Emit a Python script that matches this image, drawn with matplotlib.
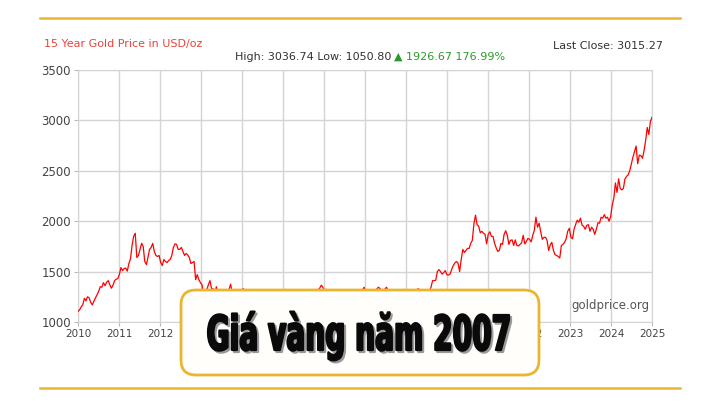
import matplotlib
matplotlib.use("Agg")
import matplotlib.pyplot as plt
import numpy as np
from matplotlib.patches import FancyBboxPatch, PathPatch
from matplotlib.textpath import TextPath
from matplotlib.font_manager import FontProperties
from matplotlib.transforms import Affine2D

# semi-monthly gold price (USD/oz), Mar 2010 -> Mar 2025
p2010 = [1105, 1120, 1150, 1170, 1235, 1210, 1250, 1240, 1195, 1170,
         1205, 1240, 1270, 1305, 1350, 1345, 1390, 1360, 1395, 1410]
p2011 = [1370, 1335, 1365, 1410, 1425, 1430, 1470, 1540, 1510, 1530, 1535, 1505,
         1580, 1625, 1760, 1850, 1880, 1640, 1660, 1720, 1780, 1750, 1600, 1570]
p2012 = [1640, 1720, 1740, 1780, 1700, 1660, 1650, 1660, 1590, 1560, 1620, 1600,
         1590, 1610, 1620, 1660, 1740, 1775, 1770, 1720, 1720, 1740, 1700, 1660]
p2013 = [1680, 1665, 1640, 1580, 1590, 1600, 1420, 1470, 1420, 1390, 1370, 1240,
         1290, 1320, 1370, 1410, 1330, 1330, 1280, 1350, 1290, 1250, 1230, 1205]
p2014 = [1250, 1245, 1310, 1325, 1375, 1290, 1300, 1290, 1295, 1250, 1275, 1320,
         1330, 1290, 1310, 1285, 1240, 1210, 1240, 1170, 1190, 1180, 1220, 1200]
p2015 = [1265, 1280, 1230, 1210, 1160, 1185, 1200, 1180, 1220, 1190, 1180, 1170,
         1100, 1095, 1115, 1135, 1110, 1115, 1185, 1140, 1085, 1065, 1065, 1060]
p2016 = [1090, 1115, 1240, 1235, 1255, 1235, 1240, 1290, 1270, 1215, 1285, 1320,
         1335, 1365, 1345, 1310, 1325, 1315, 1255, 1275, 1225, 1175, 1160, 1150]
p2017 = [1200, 1210, 1235, 1250, 1200, 1250, 1285, 1270, 1230, 1270, 1270, 1240,
         1230, 1270, 1290, 1320, 1345, 1280, 1300, 1270, 1280, 1275, 1250, 1300]
p2018 = [1330, 1345, 1330, 1320, 1320, 1325, 1345, 1315, 1290, 1300, 1280, 1250,
         1240, 1225, 1195, 1200, 1200, 1190, 1225, 1215, 1215, 1220, 1240, 1280]
p2019 = [1290, 1320, 1330, 1315, 1300, 1295, 1275, 1285, 1285, 1305, 1345, 1410,
         1410, 1415, 1500, 1520, 1500, 1475, 1490, 1510, 1470, 1465, 1475, 1520]
p2020 = [1560, 1585, 1600, 1585, 1500, 1620, 1720, 1690, 1710, 1730, 1730, 1780,
         1810, 1975, 2060, 1965, 1950, 1885, 1900, 1880, 1870, 1775, 1870, 1895]
p2021 = [1850, 1850, 1780, 1735, 1700, 1710, 1780, 1770, 1870, 1905, 1860, 1770,
         1810, 1815, 1760, 1815, 1760, 1755, 1770, 1785, 1860, 1775, 1800, 1830]
p2022 = [1820, 1795, 1860, 1910, 2040, 1940, 1980, 1895, 1820, 1840, 1840, 1810,
         1710, 1765, 1790, 1710, 1670, 1660, 1650, 1635, 1760, 1770, 1790, 1825]
p2023 = [1900, 1930, 1840, 1825, 1920, 1970, 2010, 1990, 2030, 1960, 1950, 1920,
         1960, 1965, 1900, 1940, 1920, 1870, 1920, 1985, 1980, 2040, 2030, 2065]
p2024 = [2030, 2040, 2000, 2045, 2160, 2230, 2380, 2285, 2420, 2325, 2310, 2325,
         2420, 2445, 2460, 2500, 2570, 2635, 2690, 2745, 2570, 2655, 2650, 2625]
p2025 = [2700, 2800, 2930, 2860, 2990, 3030]

prices = np.array(p2010 + p2011 + p2012 + p2013 + p2014 + p2015 + p2016 + p2017
                  + p2018 + p2019 + p2020 + p2021 + p2022 + p2023 + p2024 + p2025)
t = np.linspace(0, 15, len(prices))

year_labels = ['2010', '2011', '2012', '2013', '2014', '2015', '2016', '2017',
               '2018', '2019', '2020', '2022', '2023', '2024', '2025']
y_ticks = [1000, 1500, 2000, 2500, 3000, 3500]

gold = '#e9b632'
grey = '#444444'

fig = plt.figure(figsize=(7.2, 4.05), dpi=100)
fig.patch.set_facecolor('white')

ax = fig.add_axes([78 / 720, 1 - 322 / 405, 574 / 720, 252 / 405])
ax.plot(t, prices, color='#ff0000', lw=0.9, zorder=3)
ax.set_xlim(0, 15)
ax.set_ylim(1000, 3500)
ax.set_xticks(np.linspace(0, 15, len(year_labels)))
ax.set_xticklabels(year_labels, fontsize=7.5, color=grey)
ax.set_yticks(y_ticks)
ax.set_yticklabels([str(v) for v in y_ticks], fontsize=8.5, color=grey)
ax.grid(True, color='#d4d4d4', lw=1)
for s in ax.spines.values():
    s.set_color('#d4d4d4')
ax.tick_params(axis='both', length=3, color='#bbbbbb', pad=2)
ax.text(0.995, 0.04, 'goldprice.org', transform=ax.transAxes, ha='right',
        va='bottom', fontsize=8.5, color='#555555')

# header texts
fig.text(44 / 720, 1 - 44 / 405, '15 Year Gold Price in USD/oz', color='#e8433c',
         fontsize=8, va='center')
fig.text(235 / 720, 1 - 57 / 405, 'High: 3036.74 Low: 1050.80', color='#333333',
         fontsize=8, va='center')
fig.text(394 / 720, 1 - 57 / 405, '\u25b2 1926.67 176.99%', color='#2c9a2c',
         fontsize=8, va='center')
fig.text(663 / 720, 1 - 46 / 405, 'Last Close: 3015.27', color='#333333',
         fontsize=8, va='center', ha='right')

# overlay in pixel coords
ov = fig.add_axes([0, 0, 1, 1], zorder=10)
ov.set_xlim(0, 720)
ov.set_ylim(0, 405)
ov.axis('off')
ov.patch.set_alpha(0)

ov.plot([40, 680], [405 - 18, 405 - 18], color=gold, lw=1.8)
ov.plot([40, 680], [405 - 388, 405 - 388], color=gold, lw=1.8)

box = FancyBboxPatch((181, 405 - 375), 358, 85,
                     boxstyle='round,pad=0,rounding_size=15',
                     fc='#fffefa', ec=gold, lw=2)
ov.add_patch(box)

title = 'Giá vàng năm 2007'
fp = FontProperties(family=['DejaVu Sans'], weight='bold')
tp = TextPath((0, 0), title, size=1, prop=fp)
ext = tp.get_extents()
sx = (509 - 208) / ext.width
sy = 35 / 0.729
for dx, dy, col in [(2, -2, '#9a9a9a'), (0, 0, '#0a0a0a')]:
    tr = Affine2D().translate(-ext.x0, 0).scale(sx, sy).translate(208 + dx, 405 - 350 + dy)
    ov.add_patch(PathPatch(tr.transform_path(tp), fc=col, ec=col, lw=1.6,
                           joinstyle='round'))

fig.savefig('out.png', dpi=100)
